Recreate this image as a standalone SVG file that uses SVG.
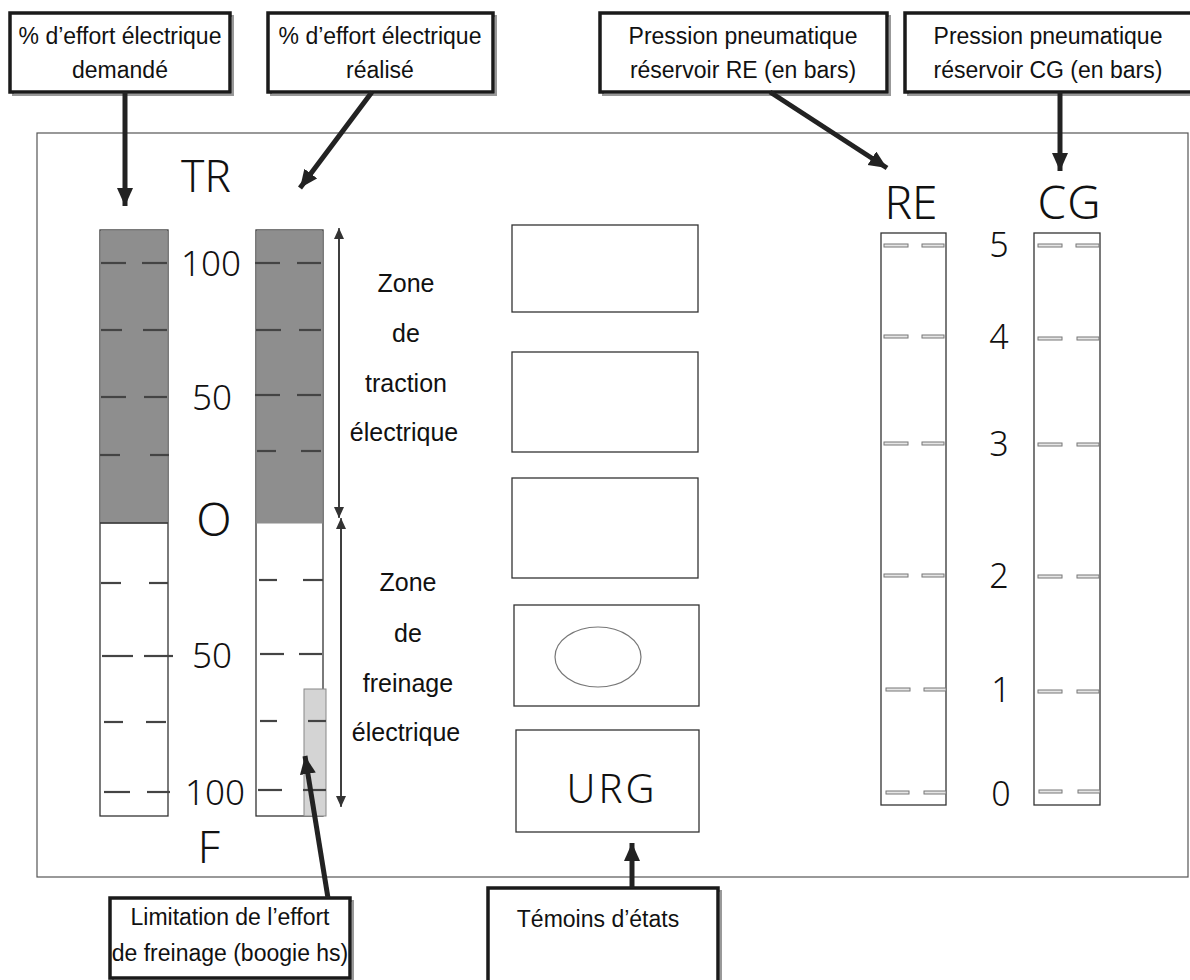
<svg xmlns="http://www.w3.org/2000/svg" width="1190" height="980" viewBox="0 0 1190 980">
<defs>
<style>
.lbl{font-family:"Liberation Sans",Arial,sans-serif;font-size:23px;fill:#111;text-anchor:middle}
.zone{font-family:"Liberation Sans",Arial,sans-serif;font-size:25px;fill:#111;text-anchor:middle}
.geo{font-family:"Noto Sans","DejaVu Sans",sans-serif;font-weight:300;fill:#111;text-anchor:middle}
.box{fill:#fff;stroke:#1a1a1a;stroke-width:3.5}
.shadow{fill:none;stroke:#999;stroke-width:2}
.thin{fill:#fff;stroke:#333;stroke-width:1.3}
.gauge{fill:#fff;stroke:#333;stroke-width:1.3}
.dark{fill:#8e8e8e}
.tick{stroke:#444;stroke-width:2.2}
.ptick{fill:#e6e6e6;stroke:#777;stroke-width:1}
.conn{stroke:#222;stroke-width:5;fill:none}
.dim{stroke:#333;stroke-width:1.5;fill:none}
</style>
<marker id="bigArrow" markerUnits="userSpaceOnUse" markerWidth="20" markerHeight="18" refX="18" refY="8" orient="auto">
<path d="M0,0 L18,8 L0,16 z" fill="#222"/>
</marker>
<marker id="smallArrow" markerUnits="userSpaceOnUse" markerWidth="12" markerHeight="10" refX="11" refY="5" orient="auto">
<path d="M0,0 L11,5 L0,10 z" fill="#333"/>
</marker>
</defs>
<rect width="1190" height="980" fill="#fff"/>

<!-- main frame -->
<rect id="frame" x="37" y="133" width="1151" height="744" fill="none" stroke="#555" stroke-width="1.2"/>

<!-- top label boxes -->
<g id="lbl-demande">
<rect class="shadow" x="13" y="16" width="220" height="79"/>
<rect class="box" x="10" y="13" width="220" height="79"/>
<text class="lbl" x="120" y="44">% d’effort électrique</text>
<text class="lbl" x="120" y="78">demandé</text>
</g>
<g id="lbl-realise">
<rect class="shadow" x="271" y="16" width="225" height="79"/>
<rect class="box" x="268" y="13" width="225" height="79"/>
<text class="lbl" x="380" y="44">% d’effort électrique</text>
<text class="lbl" x="380" y="78">réalisé</text>
</g>
<g id="lbl-re">
<rect class="shadow" x="603" y="16" width="287" height="79"/>
<rect class="box" x="600" y="13" width="287" height="79"/>
<text class="lbl" x="743" y="44">Pression pneumatique</text>
<text class="lbl" x="743" y="78">réservoir RE (en bars)</text>
</g>
<g id="lbl-cg">
<rect class="shadow" x="908" y="16" width="290" height="79"/>
<rect class="box" x="905" y="13" width="290" height="79"/>
<text class="lbl" x="1048" y="44">Pression pneumatique</text>
<text class="lbl" x="1048" y="78">réservoir CG (en bars)</text>
</g>

<!-- left gauge: demandé -->
<g id="gauge-demande">
<rect class="gauge" x="100" y="230" width="68" height="586"/>
<rect class="dark" x="100.5" y="230.5" width="67" height="293"/>
<line class="dim" x1="100" y1="523" x2="168" y2="523" stroke="#555"/>
<g class="tick">
<line x1="101" y1="263" x2="126" y2="263"/><line x1="142" y1="263" x2="167" y2="263"/>
<line x1="101" y1="330" x2="122" y2="330"/><line x1="143" y1="330" x2="167" y2="330"/>
<line x1="101" y1="397" x2="126" y2="397"/><line x1="144" y1="397" x2="167" y2="397"/>
<line x1="100" y1="455" x2="120" y2="455"/><line x1="150" y1="455" x2="169" y2="455"/>
<line x1="101" y1="583" x2="121" y2="583"/><line x1="149" y1="583" x2="168" y2="583"/>
<line x1="102" y1="656" x2="133" y2="656"/><line x1="144" y1="656" x2="173" y2="656"/>
<line x1="104" y1="722" x2="123" y2="722"/><line x1="146" y1="722" x2="166" y2="722"/>
<line x1="104" y1="792" x2="130" y2="792"/><line x1="147" y1="792" x2="170" y2="792"/>
</g>
</g>

<!-- left gauge: réalisé -->
<g id="gauge-realise">
<rect class="gauge" x="256" y="230" width="67" height="586"/>
<rect class="dark" x="256.5" y="230.5" width="66" height="293"/>
<rect id="limitation" x="304" y="689" width="22" height="127" fill="#d4d4d4" stroke="#888" stroke-width="1"/>
<g class="tick">
<line x1="255" y1="263" x2="280" y2="263"/><line x1="297" y1="263" x2="321" y2="263"/>
<line x1="256" y1="330" x2="281" y2="330"/><line x1="299" y1="330" x2="321" y2="330"/>
<line x1="255" y1="395" x2="280" y2="395"/><line x1="297" y1="395" x2="321" y2="395"/>
<line x1="257" y1="451" x2="276" y2="451"/><line x1="301" y1="451" x2="321" y2="451"/>
<line x1="259" y1="580" x2="277" y2="580"/><line x1="303" y1="580" x2="323" y2="580"/>
<line x1="260" y1="654" x2="284" y2="654"/><line x1="299" y1="654" x2="322" y2="654"/>
<line x1="260" y1="721" x2="277" y2="721"/><line x1="308" y1="721" x2="326" y2="721"/>
<line x1="258" y1="790" x2="282" y2="790"/><line x1="303" y1="790" x2="326" y2="790"/>
</g>
</g>

<!-- left scale labels -->
<g id="scale-left">
<text class="geo" x="206" y="192" font-size="44">TR</text>
<text class="geo" x="211" y="276" font-size="35">100</text>
<text class="geo" x="212" y="410" font-size="35">50</text>
<text class="geo" x="214" y="536" font-size="46">O</text>
<text class="geo" x="212" y="668" font-size="35">50</text>
<text class="geo" x="215" y="805" font-size="35">100</text>
<text class="geo" x="209" y="863" font-size="44">F</text>
</g>

<!-- zone labels -->
<g id="zone-traction">
<line class="dim" x1="339" y1="517" x2="339" y2="228" marker-end="url(#smallArrow)"/>
<line class="dim" x1="339" y1="230" x2="339" y2="518" marker-end="url(#smallArrow)"/>
<text class="zone" x="406" y="292">Zone</text>
<text class="zone" x="406" y="342">de</text>
<text class="zone" x="406" y="392">traction</text>
<text class="zone" x="404" y="441">électrique</text>
</g>
<g id="zone-freinage">
<line class="dim" x1="341" y1="806" x2="341" y2="518" marker-end="url(#smallArrow)"/>
<line class="dim" x1="341" y1="520" x2="341" y2="807" marker-end="url(#smallArrow)"/>
<text class="zone" x="408" y="591">Zone</text>
<text class="zone" x="408" y="642">de</text>
<text class="zone" x="408" y="692">freinage</text>
<text class="zone" x="406" y="741">électrique</text>
</g>

<!-- témoins -->
<g id="temoin-1"><rect class="thin" x="512" y="225" width="186" height="87"/></g>
<g id="temoin-2"><rect class="thin" x="512" y="352" width="186" height="100"/></g>
<g id="temoin-3"><rect class="thin" x="512" y="478" width="186" height="100"/></g>
<g id="temoin-4"><rect class="thin" x="514" y="605" width="185" height="101"/>
<ellipse cx="598" cy="657" rx="43" ry="30" fill="none" stroke="#777" stroke-width="1.2"/></g>
<g id="temoin-urg"><rect class="thin" x="516" y="730" width="183" height="102"/>
<text class="geo" x="612" y="803" font-size="40" letter-spacing="3">URG</text></g>

<!-- right gauges -->
<g id="gauge-re">
<text class="geo" x="911" y="219" font-size="46">RE</text>
<rect class="gauge" x="881" y="233" width="65" height="572"/>
<g>
<rect class="ptick" x="884" y="244" width="24" height="3"/><rect class="ptick" x="922" y="244" width="22" height="3"/>
<rect class="ptick" x="884" y="335" width="24" height="3"/><rect class="ptick" x="922" y="335" width="22" height="3"/>
<rect class="ptick" x="884" y="442" width="24" height="3"/><rect class="ptick" x="922" y="442" width="22" height="3"/>
<rect class="ptick" x="884" y="574" width="24" height="3"/><rect class="ptick" x="922" y="574" width="22" height="3"/>
<rect class="ptick" x="886" y="688" width="24" height="3"/><rect class="ptick" x="924" y="688" width="22" height="3"/>
<rect class="ptick" x="886" y="791" width="23" height="3"/><rect class="ptick" x="924" y="791" width="22" height="3"/>
</g>
</g>
<g id="gauge-cg">
<text class="geo" x="1070" y="219" font-size="46" letter-spacing="2">CG</text>
<rect class="gauge" x="1034" y="233" width="66" height="572"/>
<g>
<rect class="ptick" x="1038" y="244" width="24" height="3"/><rect class="ptick" x="1076" y="244" width="23" height="3"/>
<rect class="ptick" x="1038" y="337" width="24" height="3"/><rect class="ptick" x="1077" y="337" width="22" height="3"/>
<rect class="ptick" x="1038" y="443" width="24" height="3"/><rect class="ptick" x="1077" y="443" width="22" height="3"/>
<rect class="ptick" x="1038" y="575" width="24" height="3"/><rect class="ptick" x="1077" y="575" width="22" height="3"/>
<rect class="ptick" x="1038" y="690" width="24" height="3"/><rect class="ptick" x="1077" y="690" width="22" height="3"/>
<rect class="ptick" x="1039" y="790" width="23" height="3"/><rect class="ptick" x="1078" y="790" width="22" height="3"/>
</g>
</g>
<g id="scale-right">
<text class="geo" x="999" y="257" font-size="34">5</text>
<text class="geo" x="999" y="349" font-size="34">4</text>
<text class="geo" x="999" y="456" font-size="34">3</text>
<text class="geo" x="999" y="588" font-size="34">2</text>
<text class="geo" x="1001" y="702" font-size="34">1</text>
<text class="geo" x="1001" y="806" font-size="34">0</text>
</g>

<!-- bottom label boxes -->
<g id="lbl-limitation">
<rect class="shadow" x="113" y="901" width="240" height="80"/>
<rect class="box" x="110" y="898" width="240" height="80"/>
<text class="lbl" x="230" y="925">Limitation de l’effort</text>
<text class="lbl" x="230" y="961">de freinage (boogie hs)</text>
</g>
<g id="lbl-temoins">
<rect class="shadow" x="491" y="891" width="230" height="95"/>
<rect class="box" x="488" y="888" width="230" height="95"/>
<text class="lbl" x="598" y="927">Témoins d’états</text>
</g>

<!-- connectors -->
<g id="connectors">
<line class="conn" x1="125" y1="92" x2="125" y2="206" marker-end="url(#bigArrow)"/>
<line class="conn" x1="372" y1="92" x2="300" y2="188" marker-end="url(#bigArrow)"/>
<line class="conn" x1="770" y1="92" x2="887" y2="168" marker-end="url(#bigArrow)"/>
<line class="conn" x1="1060" y1="92" x2="1060" y2="171" marker-end="url(#bigArrow)"/>
<line class="conn" x1="328" y1="898" x2="305" y2="756" marker-end="url(#bigArrow)"/>
<line class="conn" x1="632" y1="888" x2="632" y2="843" marker-end="url(#bigArrow)"/>
</g>
</svg>
